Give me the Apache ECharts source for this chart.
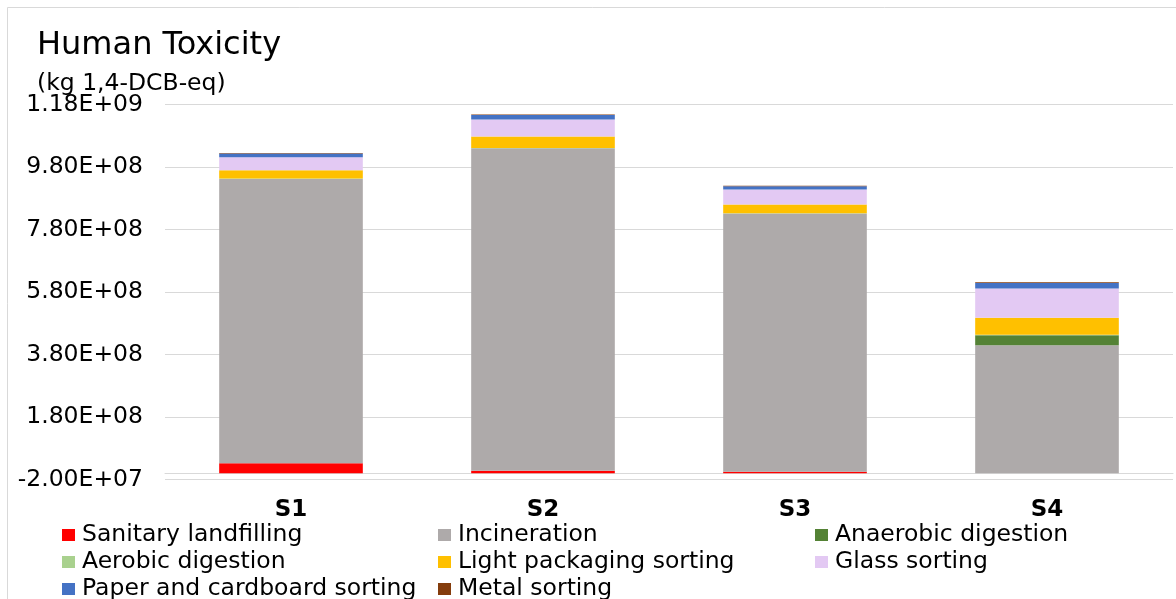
<!DOCTYPE html>
<html>
<head>
<meta charset="utf-8">
<title>Human Toxicity</title>
<script src="https://cdn.jsdelivr.net/npm/echarts@6/dist/echarts.min.js"></script>
<style>
  html, body { margin: 0; padding: 0; background: #ffffff; }
  #chart { width: 1176px; height: 599px; }
</style>
</head>
<body>
<div id="chart"></div>
<script>
// Scenarios on the category axis
const scenarios = ['S1', 'S2', 'S3', 'S4'];

// Contribution of each treatment process (kg 1,4-DCB-eq)
const sanitaryLandfilling = [3.2e7, 8.0e6, 5.0e6, 0];
const incineration        = [9.10e8, 1.032e9, 8.26e8, 4.10e8];
const anaerobicDigestion  = [0, 0, 0, 3.2e7];
const aerobicDigestion    = [1.0e6, 1.0e6, 1.0e6, 1.0e6];
const lightPackaging      = [2.66e7, 3.7e7, 2.8e7, 5.5e7];
const glassSorting        = [4.16e7, 5.44e7, 4.8e7, 9.3e7];
const paperCardboard      = [1.2e7, 1.4e7, 1.06e7, 1.8e7];
const metalSorting        = [1.5e6, 2.0e6, 1.5e6, 2.5e6];

// Value axis range and step
const axisMin = -2e7;
const axisMax = 1.18e9;
const axisStep = 2e8;

const seriesDefs = [
  { name: 'Sanitary landfilling',        data: sanitaryLandfilling, color: '#FF0000' },
  { name: 'Incineration',                data: incineration,        color: '#AEAAAA' },
  { name: 'Anaerobic digestion',         data: anaerobicDigestion,  color: '#548235' },
  { name: 'Aerobic digestion',           data: aerobicDigestion,    color: '#A9D18E' },
  { name: 'Light packaging sorting',     data: lightPackaging,      color: '#FFC000' },
  { name: 'Glass sorting',               data: glassSorting,        color: '#E3C9F3' },
  { name: 'Paper and cardboard sorting', data: paperCardboard,      color: '#4472C4' },
  { name: 'Metal sorting',               data: metalSorting,        color: '#843C0C' }
];

// Excel-style scientific notation, e.g. 9.80E+08
function sci(v) {
  const parts = Number(v).toExponential(2).split('e');
  const sign = parts[1][0];
  const exp = parts[1].slice(1).padStart(2, '0');
  return parts[0] + 'E' + sign + exp;
}

const FONT = 'DejaVu Sans';
const legendText = { fontFamily: FONT, fontSize: 23.5, color: '#000', padding: [0, 0, 0, 2] };
function legendColumn(names, left) {
  return {
    data: names,
    orient: 'vertical',
    left: left,
    top: 523,
    height: 120,
    icon: 'rect',
    itemWidth: 13,
    itemHeight: 12,
    itemGap: 3,
    padding: 0,
    textStyle: legendText,
    selectedMode: false
  };
}

const chart = echarts.init(document.getElementById('chart'), null, { renderer: 'canvas' });

chart.setOption({
  animation: false,
  backgroundColor: '#ffffff',
  graphic: [
    {
      type: 'rect',
      shape: { x: 7.5, y: 7.5, width: 1300, height: 700 },
      style: { fill: 'none', stroke: '#d9d9d9', lineWidth: 1 },
      silent: true
    },
    {
      type: 'text',
      left: 37,
      top: 30,
      style: { text: 'Human Toxicity', fontFamily: FONT, fontSize: 32, fill: '#000' }
    },
    {
      type: 'text',
      left: 37,
      top: 72,
      style: { text: '(kg 1,4-DCB-eq)', fontFamily: FONT, fontSize: 23.5, fill: '#000' }
    }
  ],
  legend: [
    legendColumn(['Sanitary landfilling', 'Aerobic digestion', 'Paper and cardboard sorting'], 62),
    legendColumn(['Incineration', 'Light packaging sorting', 'Metal sorting'], 438),
    legendColumn(['Anaerobic digestion', 'Glass sorting'], 815)
  ],
  grid: { left: 165, right: 3, top: 104.5, bottom: 119.5, containLabel: false },
  xAxis: {
    type: 'category',
    data: scenarios,
    axisLine: { onZero: true, lineStyle: { color: '#d9d9d9', width: 1 } },
    axisTick: { show: false },
    axisLabel: { fontFamily: FONT, fontSize: 23, fontWeight: 'bold', color: '#000', margin: 19 }
  },
  yAxis: {
    type: 'value',
    min: axisMin,
    max: axisMax,
    interval: axisStep,
    axisLine: { show: false },
    axisTick: { show: false },
    splitLine: { lineStyle: { color: '#d9d9d9', width: 1 } },
    axisLabel: { fontFamily: FONT, fontSize: 23.5, color: '#000', margin: 22, formatter: sci }
  },
  series: seriesDefs.map(s => ({
    name: s.name,
    type: 'bar',
    stack: 'total',
    data: s.data,
    barWidth: '57%',
    itemStyle: { color: s.color },
    emphasis: { disabled: true }
  }))
});
</script>
</body>
</html>
